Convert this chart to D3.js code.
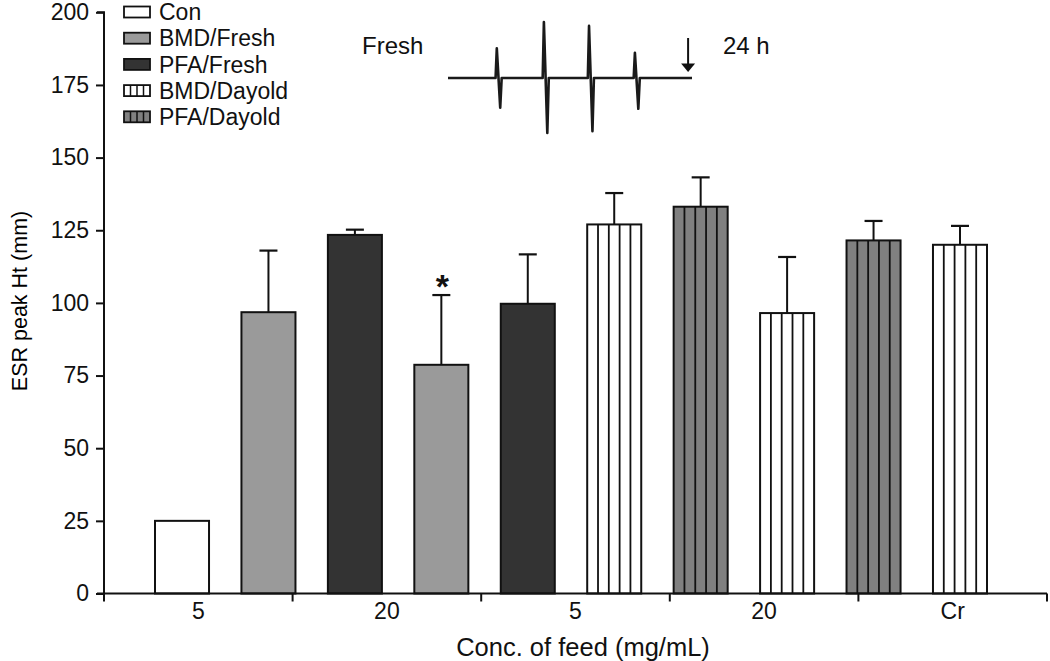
<!DOCTYPE html>
<html><head><meta charset="utf-8">
<script src="https://cdn.jsdelivr.net/npm/d3@7"></script>
<style>body{margin:0;background:#fff}text{font-family:"Liberation Sans",Arial,sans-serif;fill:#111}</style>
</head><body><svg id="c" width="1050" height="661"></svg>
<script>
// ---- data ----
const groupLabels = ["5", "20", "5", "20", "Cr"];
const barSeries = ["Con", "BMD/Fresh", "PFA/Fresh", "BMD/Fresh", "PFA/Fresh", "BMD/Dayold", "PFA/Dayold", "BMD/Dayold", "PFA/Dayold", "BMD/Dayold"];
const barValues = [25, 96.8, 123.4, 78.7, 99.7, 127.0, 133.1, 96.5, 121.5, 120.0];
const barErrors = [0, 21.2, 1.8, 24.0, 17.0, 10.8, 10.1, 19.3, 6.7, 6.5];
const significant = [false, false, false, true, false, false, false, false, false, false];
const legendSeries = ["Con", "BMD/Fresh", "PFA/Fresh", "BMD/Dayold", "PFA/Dayold"];
const yTicks = [0, 25, 50, 75, 100, 125, 150, 175, 200];
// inset ESR spectrum (derivative lines): positions (a.u.) and amplitudes
const esrLinePos = [20, 39.3, 57.8, 76.6];
const esrUp = [0.53, 1.0, 0.93, 0.45];
const esrDown = [-0.53, -0.98, -0.95, -0.55];
const esrArrowPos = 98.4;

// ---- styles ----
const fills = {"Con": "#ffffff", "BMD/Fresh": "#9a9a9a", "PFA/Fresh": "#333333", "BMD/Dayold": "#ffffff", "PFA/Dayold": "#808080"};
const striped = {"Con": false, "BMD/Fresh": false, "PFA/Fresh": false, "BMD/Dayold": true, "PFA/Dayold": true};

const svg = d3.select("#c");
const FS = 23;

const y = d3.scaleLinear().domain([0, 200]).range([593.5, 12.3]);
const xGroup = d3.scaleBand().domain(d3.range(groupLabels.length)).range([104, 1047]).padding(0);
const xBar = d3.scaleBand().domain(d3.range(barValues.length)).range([155, 987]).paddingInner(0.375).paddingOuter(0);

// bars
const bars = svg.append("g");
barValues.forEach((v, i) => {
  const s = barSeries[i];
  const x0 = xBar(i), w = xBar.bandwidth();
  const g = bars.append("g");
  g.append("rect").attr("x", x0).attr("y", y(v)).attr("width", w).attr("height", y(0) - y(v))
    .attr("fill", fills[s]).attr("stroke", "#111").attr("stroke-width", 2);
  if (striped[s]) {
    const n = 5;
    for (let k = 1; k < n; k++) {
      const xx = x0 + w * k / n;
      g.append("line").attr("x1", xx).attr("x2", xx).attr("y1", y(v)).attr("y2", y(0))
        .attr("stroke", "#111").attr("stroke-width", 1.8);
    }
  }
  if (barErrors[i] > 0) {
    const cx = x0 + w / 2, top = y(v + barErrors[i]);
    g.append("line").attr("x1", cx).attr("x2", cx).attr("y1", y(v)).attr("y2", top).attr("stroke", "#111").attr("stroke-width", 2);
    g.append("line").attr("x1", cx - 9).attr("x2", cx + 9).attr("y1", top).attr("y2", top).attr("stroke", "#111").attr("stroke-width", 2.2);
    if (significant[i]) {
      g.append("text").attr("x", cx + 1).attr("y", top + 3).attr("text-anchor", "middle")
        .attr("font-size", 34).attr("font-weight", "bold").text("*");
    }
  }
});

// y axis
const yAxis = svg.append("g").attr("transform", "translate(104,0)")
  .call(d3.axisLeft(y).tickValues(yTicks).tickSize(8).tickPadding(7));
yAxis.select(".domain").attr("d", `M0,${y(0)}V${y(200)}H-7`).attr("stroke", "#111").attr("stroke-width", 2);
yAxis.selectAll(".tick line").attr("stroke", "#111").attr("stroke-width", 2);
yAxis.selectAll(".tick text").attr("font-size", FS).attr("font-family", "Liberation Sans, Arial, sans-serif").attr("fill", "#111");

// x axis
const xAxis = svg.append("g");
xAxis.append("line").attr("x1", 97).attr("x2", 1047).attr("y1", y(0)).attr("y2", y(0)).attr("stroke", "#111").attr("stroke-width", 2);
const bounds = groupLabels.map((d, i) => xGroup(i)).concat([xGroup.range()[1]]);
bounds.forEach(b => {
  xAxis.append("line").attr("x1", b).attr("x2", b).attr("y1", y(0)).attr("y2", y(0) + 8).attr("stroke", "#111").attr("stroke-width", 2);
});
groupLabels.forEach((d, i) => {
  xAxis.append("text").attr("x", xGroup(i) + xGroup.bandwidth() / 2).attr("y", 618.5)
    .attr("text-anchor", "middle").attr("font-size", FS).text(d);
});

// axis titles
svg.append("text").attr("x", 583).attr("y", 656).attr("text-anchor", "middle").attr("font-size", 25.5).text("Conc. of feed (mg/mL)");
svg.append("text").attr("transform", "translate(27,301) rotate(-90)").attr("text-anchor", "middle").attr("font-size", 21.5).style("fill", "#000").text("ESR peak Ht (mm)");

// legend
const legend = svg.append("g");
legendSeries.forEach((s, i) => {
  const cy = 12 + i * 26.2;
  const g = legend.append("g");
  g.append("rect").attr("x", 124).attr("y", cy - 5.5).attr("width", 26).attr("height", 11)
    .attr("fill", fills[s]).attr("stroke", "#111").attr("stroke-width", 1.8);
  if (striped[s]) {
    for (let k = 1; k < 4; k++) {
      g.append("line").attr("x1", 124 + 26 * k / 4).attr("x2", 124 + 26 * k / 4).attr("y1", cy - 5.5).attr("y2", cy + 5.5)
        .attr("stroke", "#111").attr("stroke-width", 1.5);
    }
  }
  g.append("text").attr("x", 159).attr("y", cy).attr("dy", "0.36em").attr("font-size", FS).text(s);
});

// inset ESR spectrum
const ix = d3.scaleLinear().domain([0, 100]).range([448, 692]);
const iy = d3.scaleLinear().domain([-1, 1]).range([78 + 56, 78 - 56]);
const pts = [[0, 0]];
esrLinePos.forEach((p, i) => {
  pts.push([p - 0.5, 0], [p, esrUp[i]], [p + 1.4, esrDown[i]], [p + 2.0, 0]);
});
pts.push([100, 0]);
svg.append("path").attr("d", d3.line().x(d => ix(d[0])).y(d => iy(d[1]))(pts))
  .attr("fill", "none").attr("stroke", "#1a1a1a").attr("stroke-width", 2.6).attr("stroke-linejoin", "round");
// arrow
svg.append("line").attr("x1", ix(esrArrowPos)).attr("x2", ix(esrArrowPos)).attr("y1", iy(0.714)).attr("y2", iy(0.2))
  .attr("stroke", "#111").attr("stroke-width", 2);
svg.append("path").attr("d", `M${ix(esrArrowPos) - 7},${iy(0.26)}L${ix(esrArrowPos) + 7},${iy(0.26)}L${ix(esrArrowPos)},${iy(0.107)}Z`).attr("fill", "#111");
svg.append("text").attr("x", 362).attr("y", 53.5).attr("font-size", 24).text("Fresh");
svg.append("text").attr("x", 723).attr("y", 53.5).attr("font-size", 24).text("24 h");
</script></body></html>
